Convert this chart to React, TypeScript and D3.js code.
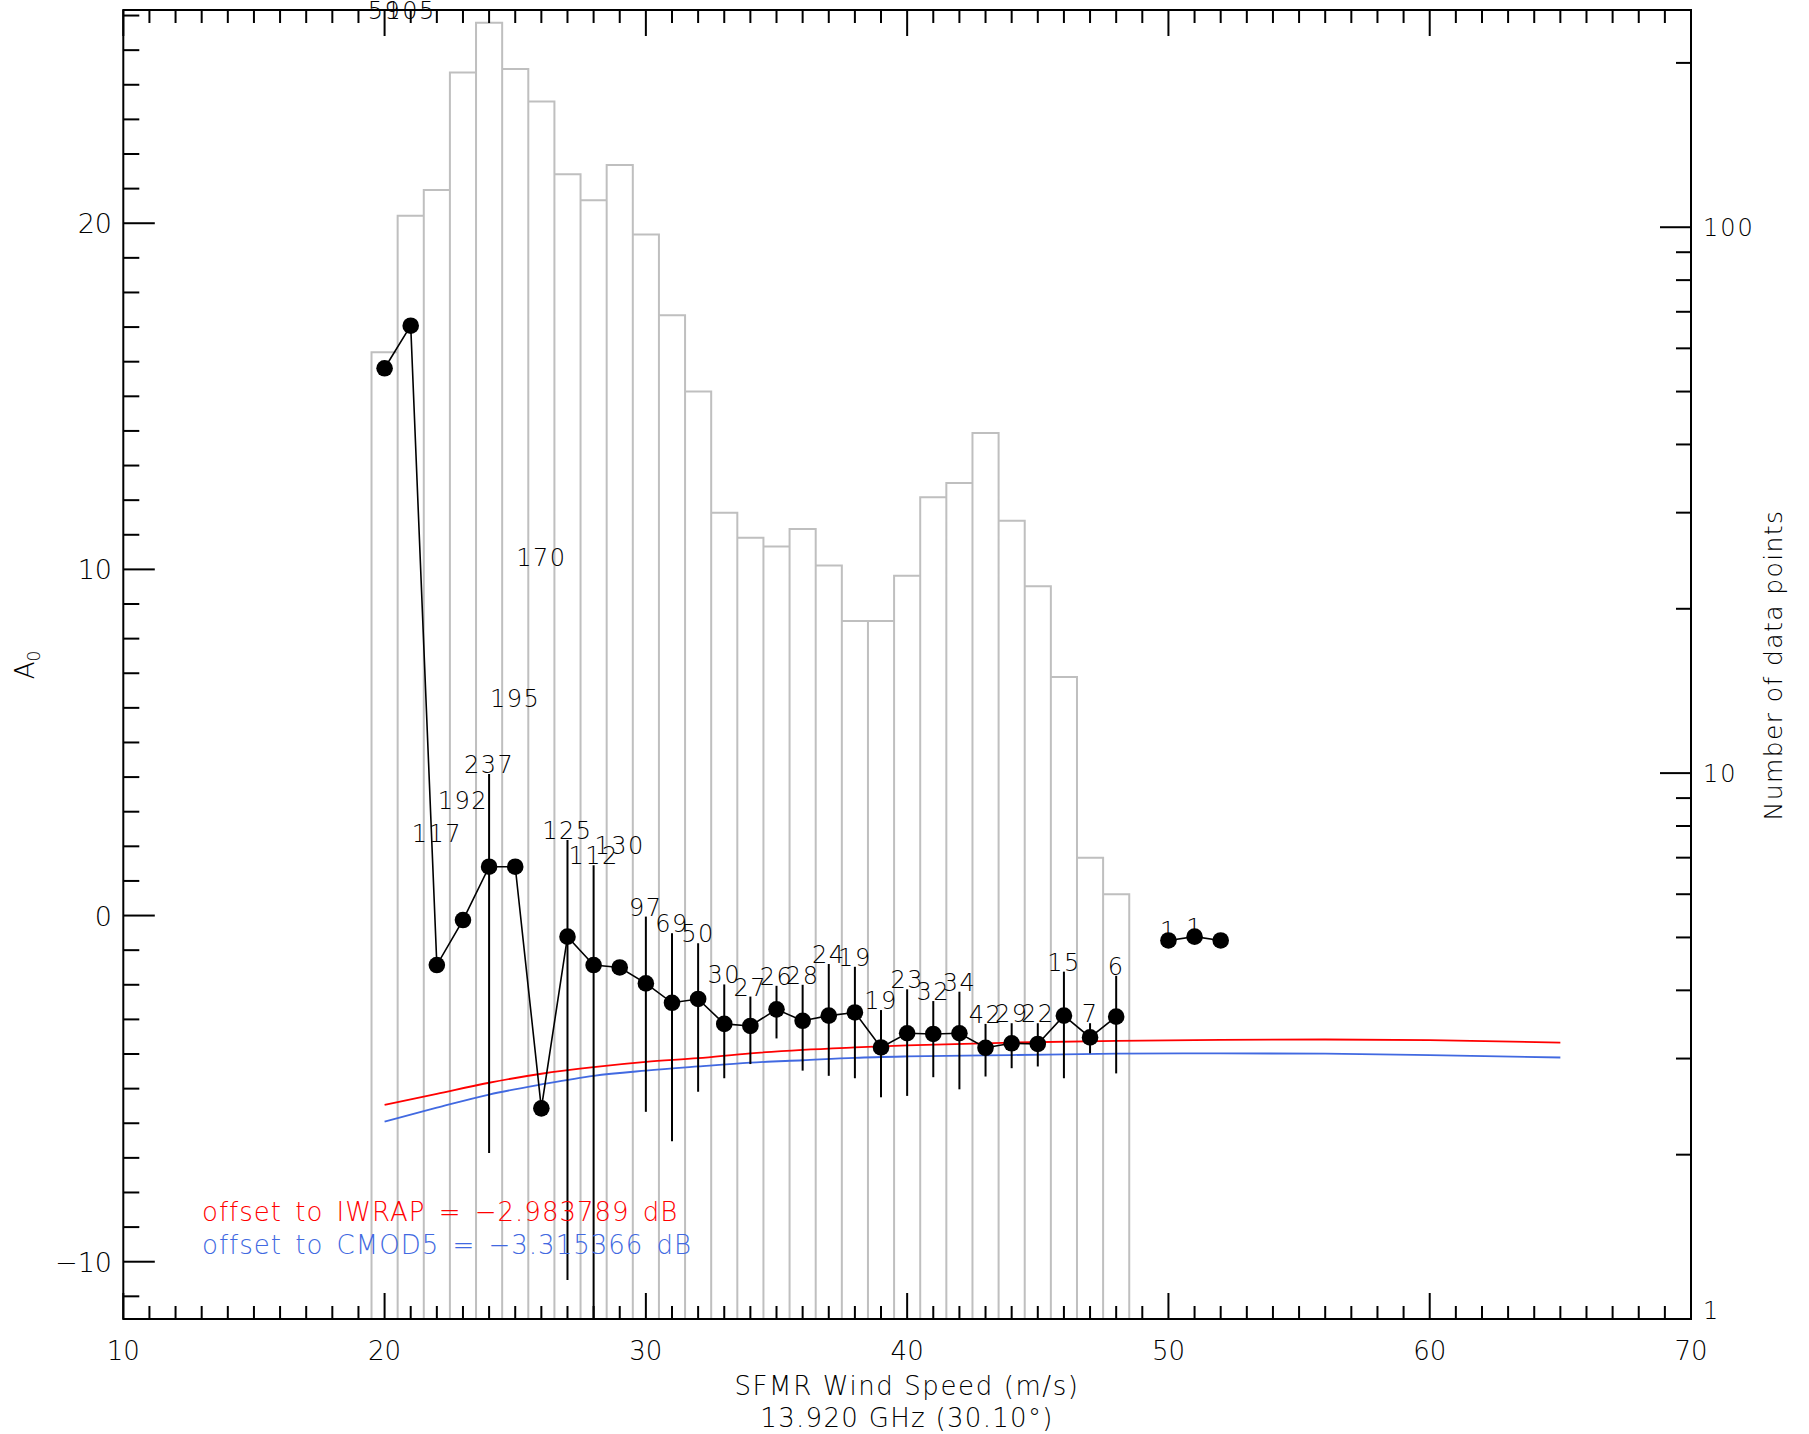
import React from "react";
import * as d3 from "d3";

// ---------- data ----------
const speeds = [20, 21, 22, 23, 24, 25, 26, 27, 28, 29, 30, 31, 32, 33, 34, 35, 36, 37, 38, 39, 40, 41, 42, 43, 44, 45, 46, 47, 48, 50, 51, 52];
const a0 = [15.81, 17.04, -1.43, -0.13, 1.41, 1.41, -5.57, -0.61, -1.43, -1.5, -1.96, -2.52, -2.41, -3.13, -3.19, -2.71, -3.04, -2.89, -2.8, -3.81, -3.4, -3.42, -3.4, -3.82, -3.69, -3.71, -2.89, -3.52, -2.92, -0.72, -0.61, -0.72];
const errHi = [25.87, 25.87, 2.1, 3.05, 4.09, 6.0, 10.07, 2.18, 1.45, 1.75, -0.03, -0.51, -0.8, -1.99, -2.34, -2.03, -2.0, -1.4, -1.48, -2.73, -2.13, -2.47, -2.2, -3.13, -3.11, -3.11, -1.62, -3.11, -1.74, -0.72, -0.61, -0.72];
const errLo: (number | null)[] = [null, null, null, null, -6.86, null, null, -10.53, -12.5, null, -5.67, -6.52, -5.09, -4.7, -4.29, -3.55, -4.48, -4.63, -4.7, -5.25, -5.21, -4.67, -5.02, -4.65, -4.41, -4.36, -4.7, -3.98, -4.56, null, null, null];
const countLabels: (number | null)[] = [59, 105, 117, 192, 237, 195, 170, 125, 112, 130, 97, 69, 50, 30, 27, 26, 28, 24, 19, 19, 23, 32, 34, 42, 29, 22, 15, 7, 6, 1, 1, null];

const histSpeeds = d3.range(20, 66);
const histCounts = [59, 105, 117, 192, 237, 195, 170, 125, 112, 130, 97, 69, 50, 30, 27, 26, 28, 24, 19, 19, 23, 32, 34, 42, 29, 22, 15, 7, 6, 0, 1, 1, 1, 0, 0, 0, 0, 0, 0, 0, 0, 0, 0, 0, 0, 0];

const modelSpeeds = [20, 22, 24, 26, 28, 30, 32, 34, 36, 38, 40, 44, 48, 52, 56, 60, 65];
const iwrap = [-5.47, -5.15, -4.83, -4.57, -4.38, -4.23, -4.12, -3.98, -3.88, -3.81, -3.75, -3.67, -3.62, -3.59, -3.58, -3.6, -3.67];
const cmod5 = [-5.95, -5.55, -5.17, -4.88, -4.63, -4.48, -4.36, -4.25, -4.18, -4.11, -4.07, -4.03, -3.99, -3.98, -3.99, -4.03, -4.1];

const xMajor = [10, 20, 30, 40, 50, 60, 70];
const yMajor = [-10, 0, 10, 20];
const rMajor = [1, 10, 100];

const legendLines = [
  { text: "offset to IWRAP = \u22122.983789 dB", color: "#ff0000" },
  { text: "offset to CMOD5 = \u22123.315366 dB", color: "#4169e1" },
];

// ---------- layout ----------
const W = 1809;
const H = 1434;
const L = 123.3, R = 1691, T = 10, B = 1319;
const FONT = "'DejaVu Sans', sans-serif";
const GRAY = "#bfbfbf";
const FW = 300;

export default function App() {
  const x = d3.scaleLinear().domain([10, 70]).range([L, R]);
  const y = d3.scaleLinear().domain([-11.655, 26.16]).range([B, T]);
  const yl = d3.scaleLog().domain([1, 250]).range([B, T]);

  const xMinor = d3.range(10, 71).filter((v) => v % 10 !== 0);
  const yMinor = d3.range(-11, 27).filter((v) => v % 10 !== 0);
  const rMinor = [2, 3, 4, 5, 6, 7, 8, 9, 20, 30, 40, 50, 60, 70, 80, 90, 200];

  const histPath = histSpeeds
    .map((s, i) => {
      const x0 = x(s - 0.5), x1 = x(s + 0.5);
      const top = yl(Math.max(histCounts[i], 1));
      return `M${x0},${B}V${top}H${x1}V${B}`;
    })
    .join("");

  // split into segments where speeds are consecutive
  const segments: number[][] = [];
  let cur: number[] = [];
  speeds.forEach((s, i) => {
    if (i > 0 && s - speeds[i - 1] !== 1) {
      segments.push(cur);
      cur = [];
    }
    cur.push(i);
  });
  segments.push(cur);
  const segPaths = segments.map((idx) =>
    d3
      .line<number>()
      .x((i) => x(speeds[i]))
      .y((i) => y(a0[i]))(idx)
  );

  const modelLine = (vals: number[]) =>
    d3
      .line<number>()
      .x((_, i) => x(modelSpeeds[i]))
      .y((v) => y(v))
      .curve(d3.curveMonotoneX)(vals);

  return (
    <svg
      width={W}
      height={H}
      style={{ position: "absolute", left: 0, top: 0, background: "#fff" }}
      fontFamily={FONT}
      fontWeight={FW}
    >
      <rect x={0} y={0} width={W} height={H} fill="#fff" />
      <defs>
        <clipPath id="plotclip">
          <rect x={L} y={T} width={R - L} height={B - T} />
        </clipPath>
      </defs>

      {/* histogram */}
      <path d={histPath} fill="none" stroke={GRAY} strokeWidth={2} />

      {/* model curves */}
      <path d={modelLine(iwrap) || ""} fill="none" stroke="#ff0000" strokeWidth={1.8} />
      <path d={modelLine(cmod5) || ""} fill="none" stroke="#4169e1" strokeWidth={1.8} />

      {/* error bars */}
      <g clipPath="url(#plotclip)">
        {speeds.map((s, i) =>
          errLo[i] === null ? null : (
            <line key={s} x1={x(s)} x2={x(s)} y1={y(errHi[i])} y2={y(errLo[i] as number)} stroke="#000" strokeWidth={2} />
          )
        )}
      </g>

      {/* data line */}
      {segPaths.map((d, i) => (
        <path key={i} d={d || ""} fill="none" stroke="#000" strokeWidth={1.6} />
      ))}
      {speeds.map((s, i) => (
        <circle key={s} cx={x(s)} cy={y(a0[i])} r={8.3} fill="#000" />
      ))}

      {/* count labels */}
      {speeds.map((s, i) =>
        countLabels[i] === null ? null : (
          <text key={s} x={x(s)} y={y(errHi[i]) - 1} fontSize={24} letterSpacing={1.5} textAnchor="middle" fill="#000">
            {countLabels[i]}
          </text>
        )
      )}

      {/* axes frame */}
      <rect x={L} y={T} width={R - L} height={B - T} fill="none" stroke="#000" strokeWidth={2} />

      {/* x ticks bottom/top */}
      {xMajor.map((v) => (
        <g key={"xM" + v}>
          <line x1={x(v)} x2={x(v)} y1={B} y2={B - 26} stroke="#000" strokeWidth={2} />
          <line x1={x(v)} x2={x(v)} y1={T} y2={T + 26} stroke="#000" strokeWidth={2} />
          <text x={x(v)} y={1360} fontSize={26} textAnchor="middle" fill="#000">
            {v}
          </text>
        </g>
      ))}
      {xMinor.map((v) => (
        <g key={"xm" + v}>
          <line x1={x(v)} x2={x(v)} y1={B} y2={B - 13} stroke="#000" strokeWidth={2} />
          <line x1={x(v)} x2={x(v)} y1={T} y2={T + 13} stroke="#000" strokeWidth={2} />
        </g>
      ))}

      {/* left y ticks */}
      {yMajor.map((v) => (
        <g key={"yM" + v}>
          <line x1={L} x2={L + 31.5} y1={y(v)} y2={y(v)} stroke="#000" strokeWidth={2} />
          <text x={112} y={y(v) + 10} fontSize={27} textAnchor="end" fill="#000">
            {v < 0 ? "\u2212" + Math.abs(v) : v}
          </text>
        </g>
      ))}
      {yMinor.map((v) => (
        <line key={"ym" + v} x1={L} x2={L + 16} y1={y(v)} y2={y(v)} stroke="#000" strokeWidth={2} />
      ))}

      {/* right log ticks */}
      {rMajor.map((v) => (
        <g key={"rM" + v}>
          <line x1={R} x2={R - 31} y1={yl(v)} y2={yl(v)} stroke="#000" strokeWidth={2} />
          <text x={1703} y={Math.min(yl(v) + 9, B)} fontSize={24} letterSpacing={2} fill="#000">
            {v}
          </text>
        </g>
      ))}
      {rMinor.map((v) => (
        <line key={"rm" + v} x1={R} x2={R - 15} y1={yl(v)} y2={yl(v)} stroke="#000" strokeWidth={2} />
      ))}

      {/* legend */}
      {legendLines.map((l, i) => (
        <text key={i} x={202} y={1221 + i * 33} fontSize={26} letterSpacing={1} wordSpacing={4} fill={l.color}>
          {l.text}
        </text>
      ))}

      {/* axis titles */}
      <text x={907} y={1395} fontSize={26} letterSpacing={1.6} textAnchor="middle" fill="#000">
        SFMR Wind Speed (m/s)
      </text>
      <text x={907} y={1427} fontSize={26} letterSpacing={1.3} textAnchor="middle" fill="#000">
        13.920 GHz (30.10°)
      </text>
      <text transform="translate(34,665) rotate(-90)" fontSize={26} textAnchor="middle" fill="#000">
        A<tspan fontSize={17} dy={6}>0</tspan>
      </text>
      <text transform="translate(1782,665) rotate(-90)" fontSize={25} letterSpacing={1.4} textAnchor="middle" fill="#000">
        Number of data points
      </text>
    </svg>
  );
}
